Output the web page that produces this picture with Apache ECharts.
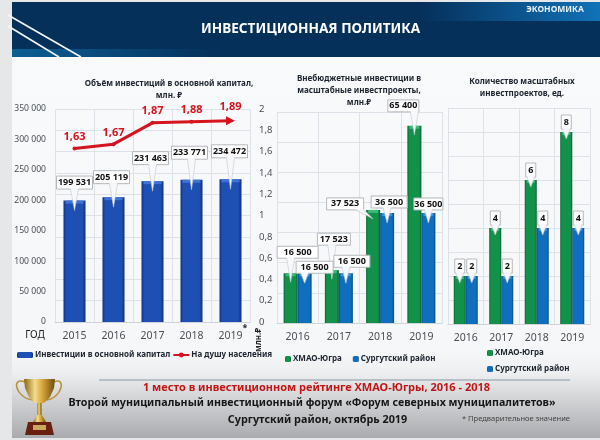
<!DOCTYPE html>
<html>
<head>
<meta charset="utf-8">
<style>html,body{margin:0;padding:0;background:#fff}#main{width:600px;height:440px}</style>
<script src="https://cdn.jsdelivr.net/npm/echarts@6/dist/echarts.min.js"></script>
</head>
<body>
<div id="main"></div>
<script>
// data
var yearsA = ['2015', '2016', '2017', '2018', '2019'];
var capital = [199531, 205119, 231463, 233771, 234472];
var perHead = [1.63, 1.67, 1.87, 1.88, 1.89];

var yearsB = ['2016', '2017', '2018', '2019'];
var extraHmao = [16500, 17523, 37523, 65400];
var extraSurgut = [16500, 16500, 36500, 36500];

var yearsC = ['2016', '2017', '2018', '2019'];
var projHmao = [2, 4, 6, 8];
var projSurgut = [2, 2, 4, 4];

// callout boxes relative to the top centre of each bar: dx, dy, width
var boxCapital = [[0, -18, 36], [-2, -20, 36], [-2, -23, 36], [-2, -27, 36], [-1, -28, 36]];
var boxExtraHmao = [[7, -21, 41], [2, -31, 33], [-28, -6, 37], [-11, -20, 31]];
var boxExtraSurgut = [[10, -6, 37], [6, -12, 36], [2, -11, 36], [0, -9, 29]];
var boxProj = [[0, -10, 10], [0, -10, 10], [0, -10, 10], [0, -10, 10]];

var font = '"Noto Sans", sans-serif';
var dark = '#1c2430';

function spaced(v) {
  return String(v).replace(/\B(?=(\d{3})+$)/g, ' ');
}
function comma(v) {
  return String(v).replace('.', ',');
}
function barFill(edge, mid) {
  return new echarts.graphic.LinearGradient(0, 0, 1, 0, [
    {offset: 0, color: edge}, {offset: 0.12, color: mid},
    {offset: 0.85, color: mid}, {offset: 1, color: edge}
  ]);
}

// white speech-bubble label above a bar, with the lighter bevel on the bar top
function calloutSeries(axisX, axisY, values, boxes, opt) {
  var rows = values.map(function (v, i) { return [i, v]; });
  return {
    type: 'custom', coordinateSystem: 'cartesian2d', xAxisIndex: axisX, yAxisIndex: axisY,
    silent: true, clip: false, z: 10, data: rows,
    renderItem: function (params, api) {
      var p = api.coord([api.value(0), api.value(1)]);
      var box = boxes[params.dataIndex];
      var w = box[2], h = opt.h;
      var bx = p[0] + opt.shift + box[0];
      var by = p[1] + box[1];
      var tx = p[0] + opt.shift, ty = p[1] + opt.tip;
      var half = Math.min(4, w / 2 - 1);
      var baseX = Math.max(bx - w / 2 + half, Math.min(bx + w / 2 - half, tx));
      var edge = by + h / 2;
      return {
        type: 'group',
        children: [
          {type: 'rect', shape: {x: tx - opt.barW / 2 + 2, y: p[1], width: opt.barW - 4, height: 3},
           style: {fill: opt.bevel}},
          {type: 'rect', shape: {x: bx - w / 2, y: by - h / 2, width: w, height: h},
           style: {fill: '#fff', stroke: '#b4b8bc', lineWidth: 1}},
          {type: 'polygon', shape: {points: [[baseX - half, edge - 1], [baseX + half, edge - 1], [tx, ty]]},
           style: {fill: '#f6f8fb'}},
          {type: 'polyline', shape: {points: [[baseX - half, edge], [tx, ty], [baseX + half, edge]]},
           style: {stroke: '#c4c8cc', lineWidth: 0.6, fill: 'none'}},
          {type: 'text', style: {text: spaced(api.value(1)), x: bx, y: by, align: 'center', verticalAlign: 'middle',
            font: 'bold 9px "Noto Sans", sans-serif', fill: '#111'}}
        ]
      };
    }
  };
}

function slideBackdrop() {
  return [
    {type: 'rect', z: -5, shape: {x: 0, y: 0, width: 600, height: 440}, style: {fill: '#e6e7e8'}},
    {type: 'rect', z: -4, shape: {x: 12, y: 2, width: 588, height: 436},
     style: {fill: new echarts.graphic.LinearGradient(0, 0, 0, 1, [
       {offset: 0, color: '#f9fafc'}, {offset: 0.8, color: '#f6f7f9'},
       {offset: 0.85, color: '#eeeff1'}, {offset: 1, color: '#a9abae'}])}},
    {type: 'rect', z: -3, shape: {x: 12, y: 2, width: 588, height: 55}, style: {fill: '#05305a'}},
    {type: 'rect', z: -3, shape: {x: 420, y: 2, width: 180, height: 19},
     style: {fill: new echarts.graphic.LinearGradient(0, 0, 1, 0, [
       {offset: 0, color: '#05305a'}, {offset: 1, color: '#1272b8'}])}},
    {type: 'rect', z: -3, shape: {x: 12, y: 49, width: 210, height: 8},
     style: {fill: new echarts.graphic.LinearGradient(0, 0, 1, 0, [
       {offset: 0, color: '#0b5f93'}, {offset: 1, color: '#05305a'}])}},
    {type: 'line', z: -2, shape: {x1: 8, y1: 15, x2: 81, y2: 57}, style: {stroke: '#f4f6f8', lineWidth: 1.6}},
    {type: 'line', z: -2, shape: {x1: 8, y1: 26, x2: 59, y2: 57}, style: {stroke: '#f4f6f8', lineWidth: 1.6}},
    {type: 'line', z: -2, shape: {x1: 99, y1: 380, x2: 570, y2: 380}, style: {stroke: '#8a97a5', lineWidth: 1}}
  ];
}

function trophy() {
  var gold = new echarts.graphic.LinearGradient(0, 0, 1, 0, [
    {offset: 0, color: '#8a6414'}, {offset: 0.35, color: '#f5dc8c'},
    {offset: 0.6, color: '#d5a43a'}, {offset: 1, color: '#6e4c0c'}]);
  return [
    {type: 'bezierCurve', z: -1, shape: {x1: 25, y1: 382, cpx1: 11, cpy1: 376, cpx2: 15, cpy2: 398, x2: 33, y2: 400},
     style: {stroke: '#b9923c', lineWidth: 1.6, fill: 'none'}},
    {type: 'bezierCurve', z: -1, shape: {x1: 54, y1: 382, cpx1: 66, cpy1: 376, cpx2: 63, cpy2: 398, x2: 46, y2: 400},
     style: {stroke: '#b9923c', lineWidth: 1.6, fill: 'none'}},
    {type: 'polygon', z: -1, shape: {points: [[24, 379], [55, 379], [54, 388], [50, 397], [44, 403], [35, 403], [29, 397], [25, 388]]},
     style: {fill: gold}},
    {type: 'rect', z: -1, shape: {x: 37.5, y: 403, width: 4, height: 14}, style: {fill: gold}},
    {type: 'polygon', z: -1, shape: {points: [[33, 422], [46, 422], [42, 415], [37, 415]]}, style: {fill: gold}},
    {type: 'polygon', z: -1, shape: {points: [[28, 422], [51, 422], [54, 435], [25, 435]]}, style: {fill: '#6a2010'}},
    {type: 'rect', z: -1, shape: {x: 33, y: 425, width: 13, height: 5}, style: {fill: '#c9a860'}}
  ];
}

function slideText() {
  function t(text, x, y, size, weight, fill, align) {
    return {type: 'text', z: 20, style: {text: text, x: x, y: y, align: align || 'center', verticalAlign: 'middle',
      font: weight + ' ' + size + 'px "Noto Sans", sans-serif', fill: fill}};
  }
  var rot = t('млн.₽', 0, 0, 8, 'bold', '#222');
  rot.rotation = Math.PI / 2;
  rot.x = 259;
  rot.y = 340;
  return [
    t('ИНВЕСТИЦИОННАЯ ПОЛИТИКА', 310.5, 29, 13.6, 'bold', '#ffffff'),
    t('ЭКОНОМИКА', 555, 9.5, 8.5, 'bold', '#e4f0fa'),
    t('ГОД', 35, 335, 10, 'normal', '#222'),
    t('*', 245, 328, 9, 'bold', '#222'),
    rot,
    t('1 место в инвестиционном рейтинге ХМАО-Югры, 2016 - 2018', 316.5, 388, 11, 'bold', '#c01616'),
    t('Второй муниципальный инвестиционный форум «Форум северных муниципалитетов»', 312, 403, 10.7, 'bold', '#161616'),
    t('Сургутский район, октябрь 2019', 317.5, 420, 10.8, 'bold', '#161616'),
    t('* Предварительное значение', 516, 419, 7.5, 'normal', '#444')
  ];
}

var gridLine = {show: true, lineStyle: {color: '#dde2e8', width: 1}};
var xTxt = {margin: 9, color: '#4a4f55', fontSize: 10.5, fontFamily: font};
var titleTxt = {fontSize: 8.1, lineHeight: 12, fontWeight: 'bold', color: dark, fontFamily: font};

var lineData = perHead.map(function (v, i) {
  return i === perHead.length - 1
    ? {value: v, symbol: 'triangle', symbolRotate: -90, symbolSize: 9}
    : {value: v};
});

var chart = echarts.init(document.getElementById('main'));
chart.setOption({
  animation: false,
  textStyle: {fontFamily: font},
  title: [
    {text: 'Объём инвестиций в основной капитал,\nмлн. ₽', left: 164, top: 73, textAlign: 'center', textStyle: titleTxt},
    {text: 'Внебюджетные инвестиции в\nмасштабные инвестпроекты,\nмлн.₽', left: 354, top: 68, textAlign: 'center', textStyle: titleTxt},
    {text: 'Количество масштабных\nинвестпроектов, ед.', left: 517, top: 71, textAlign: 'center', textStyle: titleTxt}
  ],
  legend: [
    {left: 17, top: 351, itemWidth: 16, itemHeight: 6, itemGap: 2, padding: 0, selectedMode: false,
     data: ['Инвестиции в основной капитал', 'На душу населения'],
     textStyle: {fontSize: 8, fontWeight: 'bold', color: dark, padding: [0, 0, 0, -3]}},
    {left: 285, top: 355, itemWidth: 6, itemHeight: 6, itemGap: 11, padding: 0, selectedMode: false,
     data: ['ХМАО-Югра', 'Сургутский район'],
     textStyle: {fontSize: 8, fontWeight: 'bold', color: dark, padding: [0, 0, 0, -3]}},
    {left: 487, top: 349, orient: 'vertical', itemWidth: 6, itemHeight: 6, itemGap: 8, padding: 0, selectedMode: false,
     data: [{name: 'ХМАО-Югра '}, {name: 'Сургутский район '}],
     textStyle: {fontSize: 8, fontWeight: 'bold', color: dark, padding: [0, 0, 0, -3]}}
  ],
  grid: [
    {left: 55, top: 109, width: 195, height: 213},
    {left: 277, top: 112, width: 165, height: 211},
    {left: 448, top: 108, width: 142, height: 216}
  ],
  xAxis: [
    {gridIndex: 0, type: 'category', data: yearsA, axisTick: {show: false}, splitLine: gridLine,
     axisLine: {lineStyle: {color: '#cfd4da'}}, axisLabel: xTxt},
    {gridIndex: 1, type: 'category', data: yearsB, axisTick: {show: false}, splitLine: gridLine,
     axisLine: {lineStyle: {color: '#cfd4da'}}, axisLabel: xTxt},
    {gridIndex: 2, type: 'category', data: yearsC, axisTick: {show: false}, splitLine: gridLine,
     axisLine: {lineStyle: {color: '#cfd4da'}}, axisLabel: xTxt}
  ],
  yAxis: [
    {gridIndex: 0, type: 'value', min: 0, max: 350000, interval: 50000, splitLine: {show: false},
     axisLine: {show: false}, axisTick: {show: false},
     axisLabel: {margin: 9, formatter: spaced, color: '#4a4f55', fontSize: 8.6, fontFamily: font}},
    {gridIndex: 0, type: 'value', position: 'right', min: 0, max: 2, interval: 0.2, splitLine: gridLine,
     axisLine: {show: false}, axisTick: {show: false},
     axisLabel: {margin: 9, color: '#4a4f55', fontSize: 9.5, fontFamily: font,
       formatter: function (v) { return comma(+v.toFixed(1)); }}},
    {gridIndex: 1, type: 'value', min: 0, max: 70000, interval: 10000, splitLine: gridLine,
     axisLine: {show: false}, axisTick: {show: false}, axisLabel: {show: false}},
    {gridIndex: 2, type: 'value', min: 0, max: 9, interval: 1, splitLine: gridLine,
     axisLine: {show: false}, axisTick: {show: false}, axisLabel: {show: false}}
  ],
  series: [
    {name: 'Инвестиции в основной капитал', type: 'bar', xAxisIndex: 0, yAxisIndex: 0, data: capital, barWidth: 22,
     itemStyle: {color: barFill('#102f82', '#1e50b4')}},
    {name: 'На душу населения', type: 'line', xAxisIndex: 0, yAxisIndex: 1, data: lineData, showSymbol: true,
     symbol: 'circle', symbolSize: 4, z: 6,
     lineStyle: {color: '#d4141f', width: 3}, itemStyle: {color: '#d4141f'},
     label: {show: true, position: 'top', distance: 4, color: '#d4141f', fontSize: 11, fontWeight: 'bold',
       formatter: function (p) { return comma(perHead[p.dataIndex]); }}},
    {name: 'ХМАО-Югра', type: 'bar', xAxisIndex: 1, yAxisIndex: 2, data: extraHmao, barWidth: 14, barGap: 0,
     itemStyle: {color: barFill('#0b5c30', '#11914a')}},
    {name: 'Сургутский район', type: 'bar', xAxisIndex: 1, yAxisIndex: 2, data: extraSurgut, barWidth: 14, barGap: 0,
     itemStyle: {color: barFill('#0a4a84', '#0f6fbe')}},
    {name: 'ХМАО-Югра ', type: 'bar', xAxisIndex: 2, yAxisIndex: 3, data: projHmao, barWidth: 12, barGap: 0,
     itemStyle: {color: barFill('#0b5c30', '#11914a')}},
    {name: 'Сургутский район ', type: 'bar', xAxisIndex: 2, yAxisIndex: 3, data: projSurgut, barWidth: 12, barGap: 0,
     itemStyle: {color: barFill('#0a4a84', '#0f6fbe')}},
    calloutSeries(0, 0, capital, boxCapital, {shift: 0, h: 13, tip: 10, barW: 22, bevel: '#3f74d6'}),
    calloutSeries(1, 2, extraHmao, boxExtraHmao, {shift: -7, h: 12, tip: 9, barW: 14, bevel: '#3cb878'}),
    calloutSeries(1, 2, extraSurgut, boxExtraSurgut, {shift: 7, h: 12, tip: 10, barW: 14, bevel: '#3a96dc'}),
    calloutSeries(2, 3, projHmao, boxProj, {shift: -6, h: 14, tip: 7, barW: 12, bevel: '#3cb878'}),
    calloutSeries(2, 3, projSurgut, boxProj, {shift: 6, h: 14, tip: 7, barW: 12, bevel: '#3a96dc'})
  ],
  graphic: {elements: slideBackdrop().concat(trophy(), slideText())}
});
</script>
</body>
</html>
